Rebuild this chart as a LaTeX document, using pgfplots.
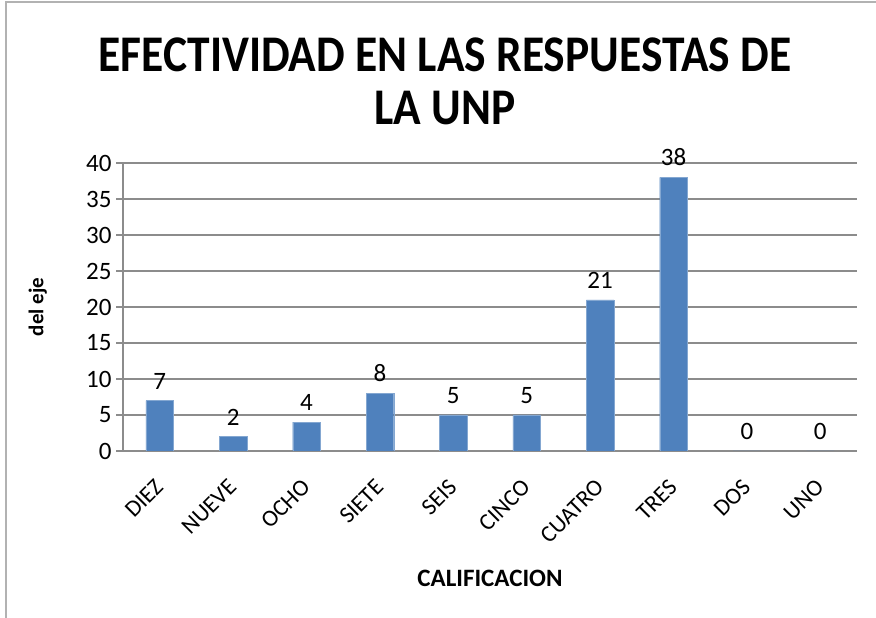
\documentclass[border=0pt]{standalone}
\usepackage{pgfplots}
\pgfplotsset{compat=1.18}
\usepackage{fontspec}
\setmainfont{Carlito}
\definecolor{barblue}{HTML}{4F81BD}
\definecolor{gridgray}{HTML}{8C8C8C}
\begin{document}
\begin{tikzpicture}[x=1pt,y=1pt]
\useasboundingbox (0,0) rectangle (876,618);
\draw[gray!60, line width=1.5pt] (6,0) -- (6,616) -- (876,616);
\node[font=\bfseries\fontsize{45.5}{52}\selectfont, anchor=base, inner sep=0pt] at (445,546) {\scalebox{1}[1.13]{EFECTIVIDAD EN LAS RESPUESTAS DE}};
\node[font=\bfseries\fontsize{45.5}{52}\selectfont, anchor=base, inner sep=0pt] at (445,493) {\scalebox{1}[1.13]{LA UNP}};
\begin{axis}[
  at={(123pt,167pt)}, anchor=south west,
  width=734pt, height=288pt, scale only axis,
  /pgf/number format/assume math mode=true,
  ymin=0, ymax=40, ytick={0,5,...,40},
  xmin=-0.5, xmax=9.5, xtick={0,...,9},
  xticklabels={DIEZ,NUEVE,OCHO,SIETE,SEIS,CINCO,CUATRO,TRES,DOS,UNO},
  axis x line*=bottom, axis y line*=left,
  axis line style={gridgray, line width=1.2pt, -},
  ymajorgrids, major grid style={gridgray, line width=1.2pt},
  ytick style={gridgray, line width=1.2pt},
  tick align=outside, major tick length=7pt,
  xtick style={draw=none},
  y tick label style={font=\fontsize{25}{25}\selectfont, xshift=-1pt},
  x tick label style={xshift=-6pt, yshift=-15pt, rotate=45, anchor=north east, font=\fontsize{23.5}{23.5}\selectfont},
  xlabel={CALIFICACION}, ylabel={del eje},
  xlabel style={font=\bfseries\fontsize{25}{25}\selectfont, at={(axis description cs:0.5,-0.441)}, anchor=center},
  ylabel style={font=\bfseries\fontsize{21}{21}\selectfont, at={(axis description cs:-0.116,0.5)}, anchor=center},
  nodes near coords,
  every node near coord/.append style={font=\fontsize{25}{25}\selectfont, yshift=8pt},
]
\addplot[ybar, bar width=27.6pt, fill=barblue, draw=barblue!70!white] coordinates {
(0,7) (1,2) (2,4) (3,8) (4,5) (5,5) (6,21) (7,38) (8,0) (9,0)};
\end{axis}
\end{tikzpicture}
\end{document}
